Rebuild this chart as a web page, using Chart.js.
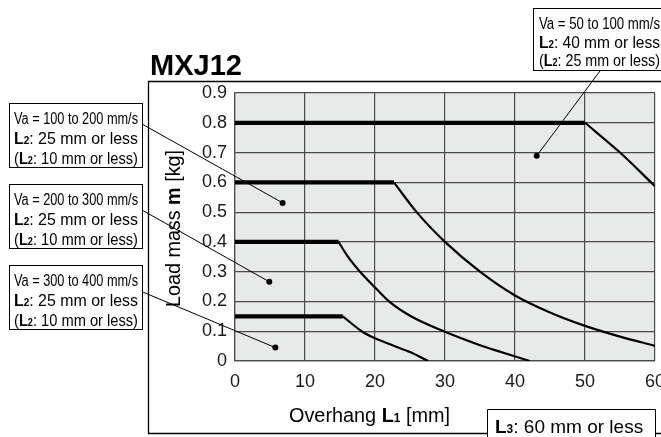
<!DOCTYPE html>
<html>
<head>
<meta charset="utf-8">
<script src="https://cdn.jsdelivr.net/npm/chart.js@4.4.1/dist/chart.umd.min.js"></script>
<style>
html,body{margin:0;padding:0;background:#fff;}
#wrap{width:661px;height:437px;position:relative;}
</style>
</head>
<body>
<div id="wrap"><canvas id="c" width="661" height="437"></canvas></div>
<script>
// ---- data ----
const chartTitle = 'MXJ12';
const xTickLabels = ['0', '10', '20', '30', '40', '50', '60'];
const yTickLabels = ['0', '0.1', '0.2', '0.3', '0.4', '0.5', '0.6', '0.7', '0.8', '0.9'];

// Va = 50 to 100 mm/s
const va50X = [0, 50, 55, 60];
const va50Y = [0.8, 0.8, 0.70, 0.587];
// Va = 100 to 200 mm/s
const va100X = [0, 22.7, 25.95, 30, 35, 40, 45, 50, 55, 60];
const va100Y = [0.6, 0.6, 0.5, 0.4, 0.3, 0.22, 0.163, 0.118, 0.082, 0.051];
// Va = 200 to 300 mm/s
const va200X = [0, 14.8, 16, 17.86, 20, 22, 25, 30, 35, 38, 42.1];
const va200Y = [0.4, 0.4, 0.355, 0.3, 0.247, 0.2, 0.152, 0.098, 0.053, 0.03, 0];
// Va = 300 to 400 mm/s
const va300X = [0, 15.4, 18.1, 20, 22.5, 25, 27.6];
const va300Y = [0.15, 0.15, 0.1, 0.076, 0.053, 0.03, 0];

// callout dots (data coordinates)
const dotX = [43.1, 6.8, 4.9, 5.76];
const dotY = [0.689, 0.531, 0.266, 0.045];

const calloutVa = ['Va = 50 to 100 mm/s', 'Va = 100 to 200 mm/s', 'Va = 200 to 300 mm/s', 'Va = 300 to 400 mm/s'];
const calloutL2 = ['40', '25', '25', '25'];
const calloutL2b = ['25', '10', '10', '10'];

// ---- build datasets ----
function pts(xs, ys, from, to) {
  const out = [];
  for (let i = from; i < to; i++) out.push({x: xs[i], y: ys[i]});
  return out;
}
const series = [[va50X, va50Y], [va100X, va100Y], [va200X, va200Y], [va300X, va300Y]];
const datasets = [];
series.forEach(([xs, ys]) => {
  datasets.push({data: pts(xs, ys, 0, 2), borderColor: '#000', borderWidth: 4.2, pointRadius: 0, tension: 0, borderCapStyle: 'butt'});
  datasets.push({data: pts(xs, ys, 1, xs.length), borderColor: '#000', borderWidth: 2.2, pointRadius: 0, cubicInterpolationMode: 'monotone'});
});
datasets.push({data: dotX.map((x, i) => ({x, y: dotY[i]})), showLine: false, pointRadius: 3, pointBackgroundColor: '#000', pointBorderColor: '#000', borderWidth: 0});

const FONT = "'Liberation Sans', Arial, Helvetica, sans-serif";

function rich(ctx, segs, x, y, size, maxW) {
  // segs: [text, bold, small]
  let w = 0;
  const fonts = segs.map(s => (s[1] ? 'bold ' : '') + (s[2] ? Math.round(size * 0.62) : size) + 'px ' + FONT);
  segs.forEach((s, i) => { ctx.font = fonts[i]; w += ctx.measureText(s[0]).width; });
  const f = maxW && w > maxW ? maxW / w : 1;
  ctx.save();
  ctx.translate(x, y);
  ctx.scale(f, 1);
  let cx = 0;
  segs.forEach((s, i) => {
    ctx.font = fonts[i];
    ctx.fillText(s[0], cx, 0);
    cx += ctx.measureText(s[0]).width;
  });
  ctx.restore();
  return w * f;
}

const decor = {
  id: 'decor',
  beforeDraw(chart) {
    const {ctx, chartArea: a} = chart;
    ctx.save();
    ctx.fillStyle = '#e8e9e9';
    ctx.fillRect(a.left, a.top, a.right - a.left, a.bottom - a.top);
    ctx.restore();
  },
  afterDraw(chart) {
    const {ctx} = chart;
    const xs = chart.scales.x, ys = chart.scales.y;
    ctx.save();
    ctx.fillStyle = '#000';
    ctx.strokeStyle = '#000';
    ctx.textBaseline = 'alphabetic';
    // outer frame
    ctx.lineWidth = 1.3;
    ctx.beginPath();
    ctx.moveTo(661, 81.5); ctx.lineTo(148.5, 81.5); ctx.lineTo(148.5, 433.5); ctx.lineTo(487, 433.5);
    ctx.moveTo(655.5, 433.5); ctx.lineTo(661, 433.5);
    ctx.stroke();
    // L3 box
    ctx.lineWidth = 1;
    ctx.fillStyle = '#fff';
    ctx.fillRect(487, 409, 169, 30);
    ctx.fillStyle = '#000';
    ctx.beginPath();
    ctx.moveTo(487.5, 438); ctx.lineTo(487.5, 409.5); ctx.lineTo(655.5, 409.5); ctx.lineTo(655.5, 438);
    ctx.stroke();
    rich(ctx, [['L', true], ['3', true, true], [': 60 mm or less']], 495, 433, 19, 155);

    // title
    ctx.font = 'bold 29px ' + FONT;
    ctx.fillText(chartTitle, 150, 75);

    // x-axis title
    rich(ctx, [['Overhang '], ['L', true], ['1', true, true], [' [mm]']], 289, 422, 20, 161);
    // y-axis title
    ctx.save();
    ctx.translate(180, 307);
    ctx.rotate(-Math.PI / 2);
    rich(ctx, [['Load mass '], ['m', true], [' [kg]']], 0, 0, 20, 157);
    ctx.restore();

    // callout boxes
    const boxes = [
      {x: 533.5, y: 8.5, w: 140, h: 62, lx: 539, ly: 29, lh: 18.5, maxW: 121, size: 16, ax: 600, ay: 71},
      {x: 9.5, y: 103.5, w: 133, h: 64, lx: 14, ly: 124, lh: 20, maxW: 124, size: 16, ax: 142, ay: 124},
      {x: 9.5, y: 184.5, w: 133, h: 64, lx: 14, ly: 205, lh: 20, maxW: 124, size: 16, ax: 142, ay: 210},
      {x: 9.5, y: 265.5, w: 133, h: 64, lx: 14, ly: 286, lh: 20, maxW: 124, size: 16, ax: 142, ay: 291.7}
    ];
    boxes.forEach((b, i) => {
      // leader line
      ctx.lineWidth = 1;
      ctx.beginPath();
      ctx.moveTo(b.ax, b.ay);
      ctx.lineTo(xs.getPixelForValue(dotX[i]), ys.getPixelForValue(dotY[i]));
      ctx.stroke();
      ctx.fillStyle = '#fff';
      ctx.fillRect(b.x, b.y, b.w, b.h);
      ctx.fillStyle = '#000';
      ctx.strokeRect(b.x, b.y, b.w, b.h);
      rich(ctx, [[calloutVa[i]]], b.lx, b.ly, b.size, b.maxW);
      rich(ctx, [['L', true], ['2', true, true], [': ' + calloutL2[i] + ' mm or less']], b.lx, b.ly + b.lh, b.size, b.maxW);
      rich(ctx, [['('], ['L', true], ['2', true, true], [': ' + calloutL2b[i] + ' mm or less)']], b.lx, b.ly + 2 * b.lh, b.size, b.maxW);
    });
    ctx.restore();
  }
};

new Chart(document.getElementById('c'), {
  type: 'line',
  data: {datasets},
  options: {
    responsive: false,
    animation: false,
    events: [],
    layout: {padding: {left: 0, top: 93, right: 6, bottom: 46}},
    plugins: {legend: {display: false}, tooltip: {enabled: false}, title: {display: false}},
    scales: {
      x: {
        type: 'linear', min: 0, max: 60,
        ticks: {stepSize: 10, padding: 10, color: '#1a1a1a', font: {family: FONT, size: 18},
          callback: (v, i) => xTickLabels[i]},
        grid: {color: '#4a4a4a', lineWidth: 1.2, drawTicks: false},
        border: {display: true, color: '#4a4a4a', width: 1.2},
        afterFit: s => { s.height = 30; s.paddingLeft = 0; s.paddingRight = 0; }
      },
      y: {
        type: 'linear', min: 0, max: 0.9,
        ticks: {stepSize: 0.1, padding: 8, color: '#1a1a1a', font: {family: FONT, size: 18},
          callback: (v, i) => yTickLabels[i]},
        grid: {color: '#4a4a4a', lineWidth: 1.2, drawTicks: false},
        border: {display: true, color: '#4a4a4a', width: 1.2},
        afterFit: s => { s.width = 235; s.paddingTop = 0; s.paddingBottom = 0; }
      }
    }
  },
  plugins: [decor]
});
</script>
</body>
</html>
